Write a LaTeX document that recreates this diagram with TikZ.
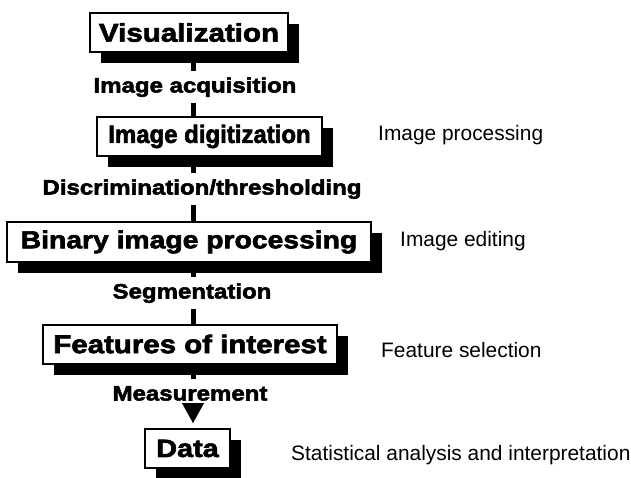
\documentclass[tikz,border=0pt]{standalone}
\usepackage{fontspec}
\setmainfont{Liberation Sans}
\newfontfamily\heavy[FakeStretch=1.155,FakeBold=2.6]{Liberation Sans Bold}
\usetikzlibrary{shadows,arrows.meta}
\begin{document}
\begin{tikzpicture}[x=1pt,y=-1pt,
  stepbox/.style={draw=black,line width=2pt,fill=white,minimum height=39pt,inner sep=0pt,
    font=\heavy\fontsize{25}{30}\selectfont,
    drop shadow={shadow xshift=11pt,shadow yshift=-11pt,fill=black,opacity=1}},
  steplabel/.style={font=\heavy\fontsize{20.8}{25}\selectfont,text height=15pt,text depth=4pt,inner xsep=0pt,inner ysep=6pt},
  sidelabel/.style={font=\fontsize{20.9}{25}\selectfont,anchor=west,inner sep=0pt},
  conn/.style={line width=5pt}]
\useasboundingbox (0,0) rectangle (631,478);
\coordinate (x0) at (193,0);
\node[stepbox,minimum width=198pt,font=\heavy\fontsize{25.6}{30}\selectfont] (vis) at (189,32.5) {Visualization};
\node[stepbox,minimum width=225pt] (dig) at (209.5,136.5) {\scalebox{0.83}[1]{Image digitization}};
\node[stepbox,minimum width=364pt,font=\heavy\fontsize{24.5}{30}\selectfont] (bin) at (189,242) {Binary image processing};
\node[stepbox,minimum width=294pt,font=\heavy\fontsize{25.5}{30}\selectfont] (feat) at (190,344) {Features of interest};
\node[stepbox,minimum width=85pt] (data) at (187.5,448.5) {Data};
\node[steplabel] (acq) at (195,87) {Image acquisition};
\node[steplabel] (disc) at (202,189) {Discrimination/thresholding};
\node[steplabel] (seg) at (192,293) {Segmentation};
\node[steplabel] (meas) at (190,395) {Measurement};
\node[sidelabel] (s1) at (378,135) {Image processing};
\node[sidelabel] (s2) at (400,241) {Image editing};
\node[sidelabel] (s3) at (381,350) {Feature selection};
\node[sidelabel] (s4) at (291,455) {Statistical analysis and interpretation};
\draw[conn] (vis.south -| x0) -- (acq.north -| x0);
\draw[conn] (acq.south -| x0) -- (dig.north -| x0);
\draw[conn] (dig.south -| x0) -- (disc.north -| x0);
\draw[conn] (disc.south -| x0) -- (bin.north -| x0);
\draw[conn] (bin.south -| x0) -- (seg.north -| x0);
\draw[conn] (seg.south -| x0) -- (feat.north -| x0);
\draw[conn] (feat.south -| x0) -- (meas.north -| x0);
\draw[line width=0.1pt,-{Triangle[width=22pt,length=20pt]},shorten >=5pt]
  ([yshift=6pt]meas.south -| x0) -- (data.north -| x0);
\end{tikzpicture}
\end{document}
